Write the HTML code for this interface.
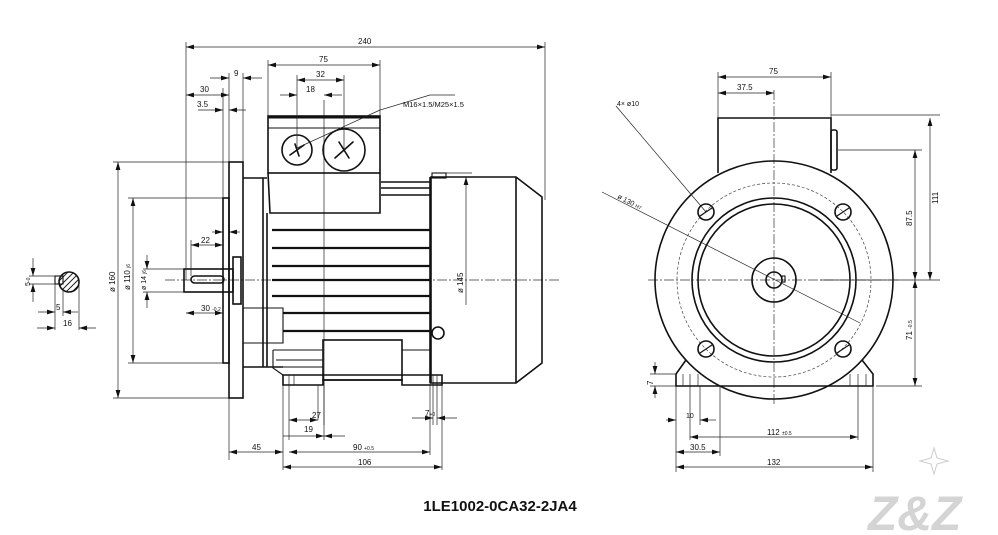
<!DOCTYPE html>
<html><head><meta charset="utf-8"><style>
html,body{margin:0;padding:0;background:#fff;}
svg{display:block;}
text{font-family:"Liberation Sans",sans-serif;font-size:8px;fill:#111;}
.o{stroke:#111;stroke-width:1.6;fill:none;}
.m{stroke:#111;stroke-width:1.1;fill:none;}
.d{stroke:#222;stroke-width:0.7;fill:none;}
.c{stroke:#333;stroke-width:0.7;fill:none;stroke-dasharray:10 2 2 2;}
.h{stroke:#444;stroke-width:0.7;fill:none;stroke-dasharray:3 2;}
</style></head><body>
<svg width="998" height="535" viewBox="0 0 998 535" xmlns="http://www.w3.org/2000/svg">
<defs>
<marker id="a" viewBox="0 0 10 6" refX="10" refY="3" markerWidth="8" markerHeight="5" orient="auto-start-reverse" markerUnits="userSpaceOnUse"><path d="M0,0 L10,3 L0,6z" fill="#111"/></marker>
</defs>
<rect width="998" height="535" fill="#fff"/>

<line class="c" x1="165" y1="280" x2="560" y2="280"/>
<line class="d" x1="324" y1="100" x2="324" y2="425"/>

<rect class="o" x="229" y="162" width="14" height="236"/>
<rect class="o" x="223" y="198" width="6" height="165"/>
<rect class="o" x="184" y="269" width="49" height="23"/>
<rect class="o" x="233" y="257" width="8" height="47"/>
<rect class="o" x="191" y="276" width="33" height="7" rx="3.5"/>
<path class="o" d="M243 178 H267 M243 367 H283 M263 178 V367"/>
<path class="m" d="M243 308 H283 V343 H243"/>
<rect class="o" x="268" y="116" width="112" height="57"/>
<line x1="268" y1="117" x2="380" y2="117" stroke="#111" stroke-width="3"/>
<line class="m" x1="268" y1="128" x2="380" y2="128"/>
<path class="o" d="M268 173 L270 213 H380 L380 173"/>
<circle class="o" cx="297" cy="150" r="15"/>
<circle class="o" cx="344" cy="150" r="21"/>
<g stroke="#111" stroke-width="1.6" fill="none" stroke-linecap="round">
<path d="M290 155 L304 145 M295 144 L299 156"/>
<path d="M335 158 L353 142 M339 142 L349 158"/>
</g>
<path class="o" d="M267 213 V367 M381 182 H430 M381 188 H430 M381 195 H430"/>
<g stroke="#111" stroke-width="2.2">
<line x1="272" y1="230" x2="430" y2="230"/><line x1="272" y1="248" x2="430" y2="248"/>
<line x1="272" y1="266" x2="430" y2="266"/><line x1="272" y1="280" x2="430" y2="280"/>
<line x1="272" y1="296" x2="430" y2="296"/><line x1="283" y1="313" x2="430" y2="313"/>
<line x1="283" y1="331" x2="430" y2="331"/>
</g>
<rect class="o" x="323" y="340" width="79" height="40"/>
<path class="m" d="M273 350 H323 M273 350 V368 L283 375 M402 350 H430 M276 360 H323 M276 367 H323"/>
<path class="o" d="M283 375 H442 V385 H402 V380 H323 V385 H283 Z"/>
<path class="d" d="M289 375 V385 M294 375 V385 M433 375 V385 M437 375 V385"/>
<path class="o" d="M431 177 H516 L542 197 V363 L516 383 H431 Z M516 177 V383 M430 177 V383"/>
<rect class="m" x="432" y="173" width="14" height="5"/>
<circle class="o" cx="438" cy="333" r="6"/>

<g class="d">
<line x1="186" y1="47" x2="545" y2="47" marker-start="url(#a)" marker-end="url(#a)"/>
<path d="M186 42 V280 M545 42 V200"/>
<line x1="268" y1="65" x2="380" y2="65" marker-start="url(#a)" marker-end="url(#a)"/>
<path d="M268 60 V116 M380 60 V116"/>
<line x1="297" y1="80" x2="344" y2="80" marker-start="url(#a)" marker-end="url(#a)"/>
<path d="M297 75 V150 M344 75 V150"/>
<line x1="280" y1="95" x2="297" y2="95" marker-end="url(#a)"/><line x1="342" y1="95" x2="324" y2="95" marker-end="url(#a)"/>
<line x1="210" y1="78" x2="229" y2="78" marker-end="url(#a)"/><line x1="262" y1="78" x2="243" y2="78" marker-end="url(#a)"/>
<path d="M229 73 V162 M243 73 V162 M223 88 V198"/>
<line x1="186" y1="95" x2="229" y2="95" marker-start="url(#a)" marker-end="url(#a)"/>
<line x1="198" y1="110" x2="223" y2="110" marker-end="url(#a)"/><line x1="246" y1="110" x2="229" y2="110" marker-end="url(#a)"/>
<path d="M380 110 L430 95 H455 M380 110 L297 148"/>
<line x1="212" y1="232" x2="223" y2="232" marker-end="url(#a)"/><line x1="240" y1="232" x2="229" y2="232" marker-end="url(#a)"/>
<line x1="191" y1="245" x2="223" y2="245" marker-start="url(#a)" marker-end="url(#a)"/><path d="M191 240 V276"/>
<line x1="186" y1="313" x2="223" y2="313" marker-start="url(#a)" marker-end="url(#a)"/>
<line x1="118" y1="162" x2="118" y2="398" marker-start="url(#a)" marker-end="url(#a)"/>
<path d="M113 162 H229 M113 398 H229"/>
<line x1="133" y1="198" x2="133" y2="363" marker-start="url(#a)" marker-end="url(#a)"/>
<path d="M128 198 H223 M128 363 H223"/>
<line x1="147" y1="255" x2="147" y2="269" marker-end="url(#a)"/><line x1="147" y1="308" x2="147" y2="292" marker-end="url(#a)"/>
<path d="M143 269 H184 M143 292 H184"/>
<line x1="466" y1="305" x2="466" y2="177" marker-end="url(#a)"/><path d="M446 173 H472"/>
<path d="M229 398 V460 M283 385 V470 M289 385 V440 M318 385 V420 M324 380 V440 M430 383 V455 M433 385 V425 M437 385 V425 M442 385 V470"/>
<line x1="289" y1="420" x2="318" y2="420" marker-start="url(#a)" marker-end="url(#a)"/>
<line x1="283" y1="436" x2="324" y2="436" marker-end="url(#a)"/>
<line x1="345" y1="436" x2="324" y2="436" marker-end="url(#a)"/>
<line x1="412" y1="418" x2="433" y2="418" marker-end="url(#a)"/><line x1="457" y1="418" x2="437" y2="418" marker-end="url(#a)"/>
<line x1="229" y1="452" x2="283" y2="452" marker-start="url(#a)" marker-end="url(#a)"/>
<line x1="289" y1="452" x2="430" y2="452" marker-start="url(#a)" marker-end="url(#a)"/>
<line x1="283" y1="467" x2="442" y2="467" marker-start="url(#a)" marker-end="url(#a)"/>
</g>
<g>
<text x="358" y="44">240</text><text x="319" y="62">75</text><text x="316" y="77">32</text>
<text x="306" y="92">18</text><text x="234" y="76">9</text><text x="200" y="92">30</text>
<text x="197" y="107">3.5</text><text x="403" y="107" style="font-size:7.5px">M16×1.5/M25×1.5</text>
<text x="201" y="243">22</text><text x="201" y="311">30 <tspan style="font-size:5px">-0.2</tspan></text>
<text x="312" y="418">27</text><text x="304" y="432">19</text><text x="425" y="416">7<tspan style="font-size:5px">+0</tspan></text>
<text x="252" y="450">45</text><text x="353" y="450">90 <tspan style="font-size:5px">+0.5</tspan></text><text x="358" y="465">106</text>
<text transform="translate(115,292) rotate(-90)">ø 160</text>
<text transform="translate(130,290) rotate(-90)">ø 110 <tspan style="font-size:5px">j6</tspan></text>
<text transform="translate(146,290) rotate(-90)" style="font-size:7px">ø 14 <tspan style="font-size:5px">j6</tspan></text>
<text transform="translate(463,293) rotate(-90)">ø 145</text>
</g>

<clipPath id="kc"><circle cx="69" cy="282" r="10"/></clipPath>
<g clip-path="url(#kc)" stroke="#222" stroke-width="1">
<path d="M56 290 L74 272 M59 293 L77 275 M62 296 L80 278 M65 299 L83 281 M53 287 L71 269 M50 284 L68 266 M68 302 L86 284"/>
</g>
<circle cx="69" cy="282" r="10" class="o"/>
<rect x="55" y="276" width="8" height="8" fill="#fff" class="m"/>
<g class="d">
<line x1="33" y1="258" x2="33" y2="276" marker-end="url(#a)"/><line x1="33" y1="302" x2="33" y2="284" marker-end="url(#a)"/>
<path d="M29 276 H55 M29 284 H55 M55 284 V330 M63 290 V316 M79 282 V330"/>
<line x1="38" y1="312" x2="55" y2="312" marker-end="url(#a)"/><line x1="78" y1="312" x2="63" y2="312" marker-end="url(#a)"/>
<line x1="37" y1="328" x2="55" y2="328" marker-end="url(#a)"/><line x1="96" y1="328" x2="79" y2="328" marker-end="url(#a)"/>
</g>
<text transform="translate(30,286) rotate(-90)" style="font-size:7px">5<tspan style="font-size:5px">-0</tspan></text>
<text x="56" y="310">5</text><text x="63" y="326">16</text>

<line class="c" x1="648" y1="280" x2="900" y2="280"/>
<line class="c" x1="774" y1="90" x2="774" y2="405"/>
<path class="o" d="M718 173 V118 H831 V173"/>
<rect class="o" x="831" y="130" width="6" height="40" rx="2"/>
<path class="o" d="M686 360 L676 374 V386 H873 V374 L862 360"/>
<path class="d" d="M683 374 V386 M690 374 V386 M698 374 V386 M850 374 V386 M858 374 V386 M866 374 V386"/>
<circle cx="774" cy="280" r="119" class="o" fill="#fff"/>
<circle cx="774" cy="280" r="97" class="h"/>
<circle cx="774" cy="280" r="82" class="o"/>
<circle cx="774" cy="280" r="76" class="o"/>
<circle cx="774" cy="280" r="22" class="o"/>
<circle cx="774" cy="280" r="8" class="o"/>
<rect x="782" y="276" width="3" height="6" class="m"/>
<g class="o">
<circle cx="706" cy="212" r="8"/><circle cx="843" cy="212" r="8"/>
<circle cx="706" cy="349" r="8"/><circle cx="843" cy="349" r="8"/>
</g>
<path class="m" d="M700 216 L712 208 M837 216 L849 208 M700 353 L712 345 M837 353 L849 345"/>
<g class="d">
<path d="M616 106 L706 212 M602 192 L860 323"/>
<line x1="718" y1="77" x2="831" y2="77" marker-start="url(#a)" marker-end="url(#a)"/>
<line x1="718" y1="93" x2="774" y2="93" marker-start="url(#a)" marker-end="url(#a)"/>
<path d="M718 72 V118 M831 72 V118 M831 115 H940 M838 150 H922 M876 386 H922 M820 280 H940"/>
<line x1="930" y1="118" x2="930" y2="280" marker-start="url(#a)" marker-end="url(#a)"/>
<line x1="915" y1="150" x2="915" y2="280" marker-start="url(#a)" marker-end="url(#a)"/>
<line x1="915" y1="280" x2="915" y2="386" marker-start="url(#a)" marker-end="url(#a)"/>
<line x1="655" y1="362" x2="655" y2="374" marker-end="url(#a)"/><line x1="655" y1="398" x2="655" y2="386" marker-end="url(#a)"/>
<path d="M650 374 H676 M650 386 H676 M676 386 V472 M690 386 V440 M720 386 V456 M858 386 V440 M873 386 V472"/>
<line x1="666" y1="420" x2="676" y2="420" marker-end="url(#a)"/><line x1="716" y1="420" x2="700" y2="420" marker-end="url(#a)"/>
<path d="M700 386 V425"/>
<line x1="690" y1="437" x2="858" y2="437" marker-start="url(#a)" marker-end="url(#a)"/>
<line x1="676" y1="452" x2="720" y2="452" marker-start="url(#a)" marker-end="url(#a)"/>
<line x1="676" y1="467" x2="873" y2="467" marker-start="url(#a)" marker-end="url(#a)"/>
</g>
<text x="769" y="74">75</text><text x="737" y="90">37.5</text>
<text x="617" y="106" style="font-size:7px">4× ø10</text>
<text transform="translate(617,198) rotate(27)" style="font-size:7px">ø 130 <tspan style="font-size:5px">H7</tspan></text>
<text transform="translate(938,204) rotate(-90)">111</text>
<text transform="translate(912,226) rotate(-90)">87.5</text>
<text transform="translate(912,340) rotate(-90)">71 <tspan style="font-size:5px">-0.5</tspan></text>
<text transform="translate(653,385) rotate(-90)">7</text>
<text x="686" y="418" style="font-size:7px">10</text><text x="767" y="435">112 <tspan style="font-size:5px">±0.5</tspan></text>
<text x="690" y="450">30.5</text><text x="767" y="465">132</text>

<text x="500" y="511" text-anchor="middle" style="font-size:15px;font-weight:bold;">1LE1002-0CA32-2JA4</text>
<path d="M934 448 L937 458 L948 461 L937 464 L934 474 L931 464 L920 461 L931 458 Z" fill="none" stroke="#ccc" stroke-width="1"/>
<text x="868" y="530" style="font-size:48px;font-weight:bold;font-style:italic;fill:#d4d4d4;">Z&amp;Z</text>
</svg>
</body></html>
